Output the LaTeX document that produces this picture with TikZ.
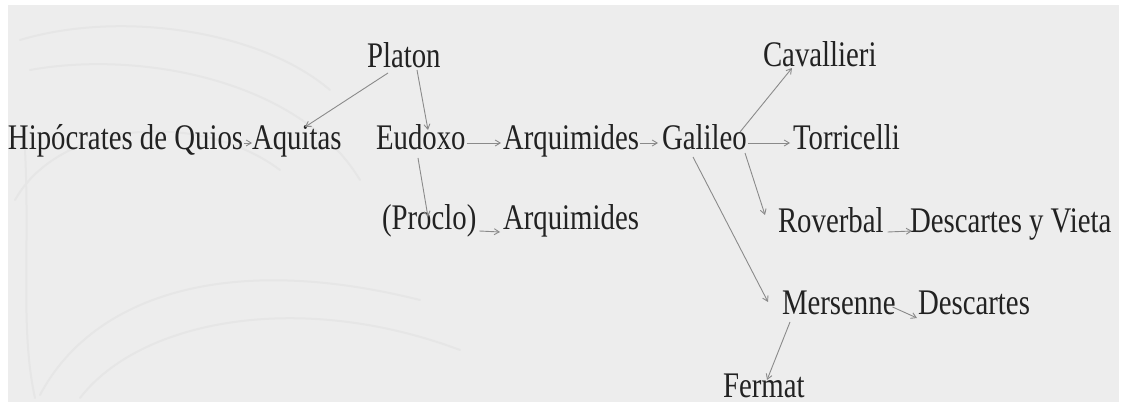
\documentclass[tikz,border=0pt]{standalone}
\usepackage{fontspec}
\setmainfont{Liberation Serif}[FakeStretch=0.8]
\usetikzlibrary{arrows.meta,calc}

\definecolor{paper}{HTML}{EDEDED}
\definecolor{swirl}{HTML}{E6E6E6}
\definecolor{ink}{HTML}{222222}
\definecolor{linkgrey}{HTML}{8A8A8A}

\tikzset{
  person/.style={anchor=base west, inner sep=0pt, outer sep=0pt,
               text=ink, font=\fontsize{36}{38}\selectfont},
  influence/.style={draw=linkgrey, line width=0.9pt,
               -{Straight Barb[length=5pt,width=6pt]}},
  wave/.style={draw=swirl, line width=2pt, line cap=round}
}

\begin{document}
\begin{tikzpicture}[x=1pt, y=-1pt]
  % page and grey slide background
  \fill[white] (0,0) rectangle (1122,403);
  \fill[paper] (8,5) rectangle (1119,402);
  \useasboundingbox (0,0) rectangle (1122,403);

  % faint ornamental swirls in the background
  \draw[wave] (20,40) .. controls (120,10) and (260,30) .. (330,90);
  \draw[wave] (30,70) .. controls (140,50) and (300,80) .. (360,180);
  \draw[wave] (15,200) .. controls (60,120) and (200,110) .. (280,170);
  \draw[wave] (40,395) .. controls (90,300) and (220,250) .. (420,300);
  \draw[wave] (80,398) .. controls (140,320) and (300,290) .. (460,350);
  \draw[wave] (25,150) .. controls (30,250) and (20,330) .. (35,398);

  % names
  \node[person] (hipo)   at (8,150)   {Hipócrates de Quios};
  \node[person] (aqui)   at (252,150) {Aquitas};
  \node[person] (platon) at (367,68)  {Platon};
  \node[person] (eudoxo) at (376,150) {Eudoxo};
  \node[person] (arqa)   at (503,150) {Arquimides};
  \node[person] (proclo) at (382,230) {(Proclo)};
  \node[person] (arqb)   at (503,230) {Arquimides};
  \node[person] (gal)    at (662,150) {Galileo};
  \node[person] (cav)    at (763,67)  {Cavallieri};
  \node[person] (tor)    at (793,150) {Torricelli};
  \node[person] (rov)    at (778,233) {Roverbal};
  \node[person] (dyv)    at (910,233) {Descartes y Vieta};
  \node[person] (mer)    at (782,315) {Mersenne};
  \node[person] (desc)   at (918,315) {Descartes};
  \node[person] (fer)    at (723,397) {Fermat};

  % lines of influence
  \draw[influence] ($(hipo.base east)+(1,-7)$) -- ($(aqui.base west)+(0,-7)$);
  \draw[influence] ($(platon.base west)+(21,5)$) -- ($(aqui.base west)+(53,-23)$);
  \draw[influence] ($(platon.base west)+(50,2)$) -- ($(eudoxo.base west)+(52,-20)$);
  \draw[influence] ($(eudoxo.base west)+(42,8)$) -- ($(proclo.base west)+(46,-13)$);
  \draw[influence] ($(eudoxo.base east)+(1,-7)$) -- ($(arqa.base west)+(-2,-7)$);
  \draw[influence] ($(arqa.base east)+(1,-7)$) -- ($(gal.base west)+(-4,-7)$);
  \draw[influence] ($(proclo.base east)+(3,1)$) -- ($(arqb.base west)+(-3,2)$);
  \draw[influence] ($(gal.base west)+(78,-18)$) -- ($(cav.base west)+(29,1)$);
  \draw[influence] ($(gal.base east)+(1,-7)$) -- ($(tor.base west)+(-3,-7)$);
  \draw[influence] ($(gal.base west)+(83,3)$) -- ($(rov.base west)+(-13,-18)$);
  \draw[influence] ($(gal.base west)+(31,7)$) -- ($(mer.base west)+(-14,-13)$);
  \draw[influence] ($(rov.base east)+(4,-1)$) -- ($(dyv.base west)+(2,-2)$);
  \draw[influence] ($(mer.base east)+(-3,-8)$) -- ($(desc.base west)+(-1,3)$);
  \draw[influence] ($(mer.base west)+(8,7)$) -- ($(fer.base west)+(44,-17)$);
\end{tikzpicture}
\end{document}
